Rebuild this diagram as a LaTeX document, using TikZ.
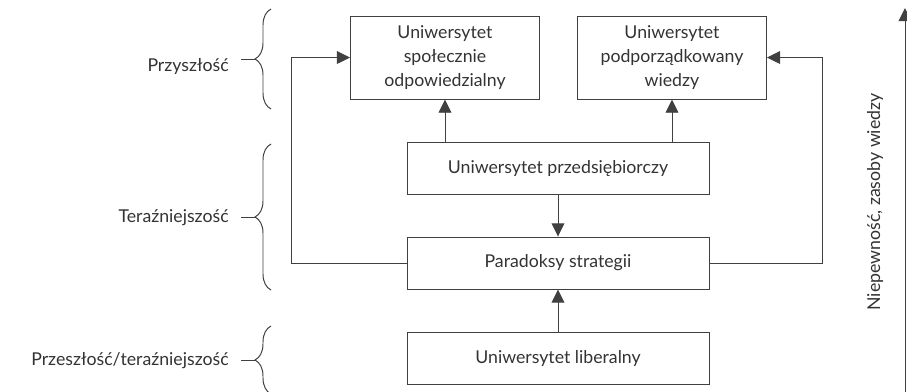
\documentclass[tikz,border=0pt]{standalone}
\usepackage{fontspec}
\setmainfont{Lato}
\usetikzlibrary{arrows.meta, positioning, calc, decorations.pathreplacing}
\tikzset{every node/.append style={align=center, inner sep=3pt}}

\begin{document}
\begin{tikzpicture}[
    font=\fontsize{12.6}{17}\selectfont, node distance=1.05cm, color=black!80,
    box/.style={rectangle, draw=black!75, line width=0.7pt, minimum width=7.55cm,
        minimum height=1.3cm, align=center},
    tbox/.style={box, minimum width=4.725cm, minimum height=2.075cm},
    a/.style={-{Triangle[length=3.3mm, width=3.2mm]}, line width=0.7pt, black!75},
    br/.style={decorate, decoration={brace, amplitude=0.4cm}, line width=0.7pt, black!75},
    lk/.style={line width=0.7pt, black!75, shorten <=0.3cm},
    lab/.style={anchor=base east, inner sep=0pt}
]
\useasboundingbox (0,0) rectangle (22.675,-9.775);
\node[box] (lib) at (13.95,-8.95) {Uniwersytet liberalny};
\node[box, above=of lib] (par) {Paradoksy strategii};
\node[box, above=of par] (prz) {Uniwersytet przedsiębiorczy};
\node[tbox, above left=1.05cm and 0.45cm of prz.north, anchor=south east] (spol)
    {Uniwersytet\\społecznie\\odpowiedzialny};
\node[tbox, above right=1.05cm and 0.475cm of prz.north, anchor=south west] (wied)
    {Uniwersytet\\podporządkowany\\wiedzy};
\draw[a] (spol.south |- prz.north) -- (spol.south);
\draw[a] (wied.south |- prz.north) -- (wied.south);
\draw[a] (prz) -- (par);
\draw[a] (lib) -- (par);
% feedback loops
\draw[a] (par.west) -- ++(-2.875,0) |- (spol.west);
\draw[a] (par.east) -- ++(2.825,0) |- (wied.east);
% time braces
\draw[br] (6.775,-2.725) -- (6.775,-0.225);
\draw[br] (6.775,-7.25) -- (6.775,-3.6);
\draw[br] (6.775,-9.85) -- (6.775,-8.15);
\coordinate (t1) at (6.375,-1.475);
\coordinate (t2) at (6.375,-5.425);
\coordinate (t3) at (6.375,-9.0);
\node[lab] (przysz) at (5.725,-1.775) {Przyszłość};
\node[lab] (teraz) at (5.725,-5.55) {Teraźniejszość};
\node[lab] (przesz) at (5.725,-9.125) {Przeszłość/teraźniejszość};
\draw[lk] (przysz.east |- t1) -- (t1);
\draw[lk] (teraz.east |- t2) -- (t2);
\draw[lk] (przesz.east |- t3) -- (t3);
% knowledge axis
\coordinate (axb) at (22.625,-9.9);
\coordinate (axt) at (22.625,-0.2);
\draw[a] (axb) -- (axt);
\node[rotate=90, anchor=base] (niep) at (22.0,-5.05) {Niepewność, zasoby wiedzy};
\end{tikzpicture}
\end{document}
